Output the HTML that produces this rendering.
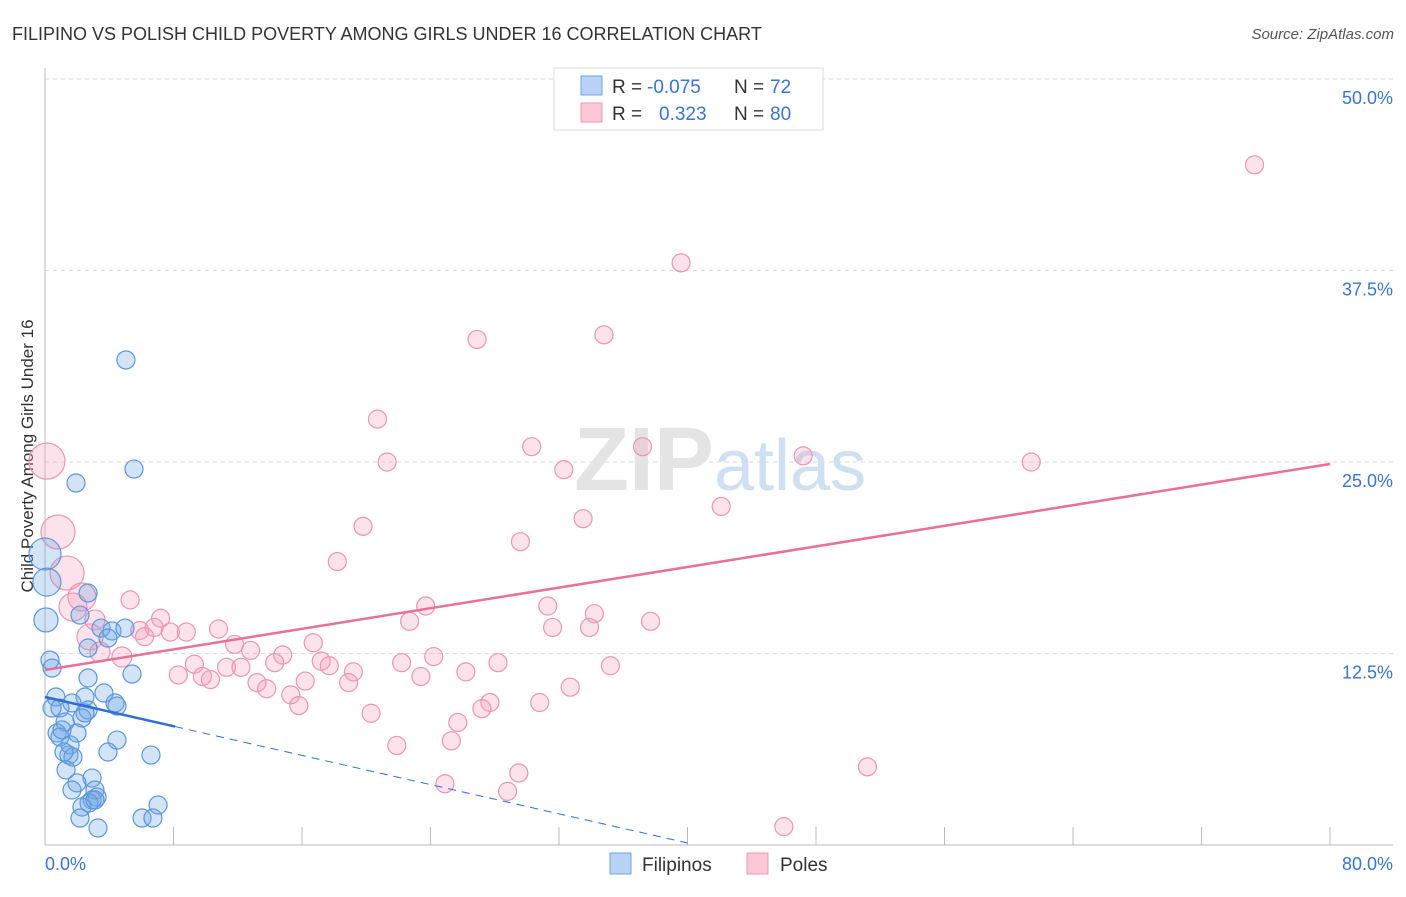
<!DOCTYPE html>
<html><head><meta charset="utf-8"><style>
body{margin:0;background:#fff;font-family:"Liberation Sans",sans-serif;}
svg text{font-family:"Liberation Sans",sans-serif;}
</style></head><body>
<svg id="chart" width="1406" height="892" viewBox="0 0 1406 892" xmlns="http://www.w3.org/2000/svg">
<text x="12" y="40" font-size="18" fill="#333">FILIPINO VS POLISH CHILD POVERTY AMONG GIRLS UNDER 16 CORRELATION CHART</text>
<text x="1394" y="39" font-size="15" fill="#555" text-anchor="end" font-style="italic">Source: ZipAtlas.com</text>
<text transform="translate(33,456) rotate(-90)" font-size="17" fill="#333" text-anchor="middle">Child Poverty Among Girls Under 16</text>
<g id="grid"></g>
<g id="axes"></g>
<text x="720" y="490" font-size="90" text-anchor="middle" fill="#e4e4e4" font-family="Liberation Serif"><tspan font-weight="bold">ZIP</tspan><tspan fill="#cfe0f3" font-family="Liberation Sans" font-size="72">atlas</tspan></text>
<g id="pts"></g>
<g id="trends"></g>
<g>
<rect x="554" y="68" width="269" height="62" fill="#fff" stroke="#ddd"/>
<rect x="581" y="76" width="21" height="19" fill="#b8d3f5" stroke="#6ea3e3"/>
<rect x="581" y="103" width="21" height="19" fill="#fbc8d7" stroke="#ee98b3"/>
<text x="612" y="93" font-size="19" fill="#333">R = </text><text x="647" y="93" font-size="19" fill="#3a74d0">-0.075</text>
<text x="734" y="93" font-size="19" fill="#333">N = </text><text x="770" y="93" font-size="19" fill="#3a74d0">72</text>
<text x="612" y="120" font-size="19" fill="#333">R = </text><text x="659" y="120" font-size="19" fill="#3a74d0">0.323</text>
<text x="734" y="120" font-size="19" fill="#333">N = </text><text x="770" y="120" font-size="19" fill="#3a74d0">80</text>
</g>
<g>
<rect x="610" y="853" width="21" height="21" fill="#b8d3f5" stroke="#6ea3e3"/>
<text x="642" y="871" font-size="19" fill="#333">Filipinos</text>
<rect x="747" y="853" width="21" height="21" fill="#fbc8d7" stroke="#ee98b3"/>
<text x="780" y="871" font-size="19" fill="#333">Poles</text>
</g>
</svg>
<script>
const xTickValues=[0,8,16,24,32,40,48,56,64,72,80];
const yTickValues=[12.5,25,37.5,50];
const yTickLabels=["12.5%","25.0%","37.5%","50.0%"];
const xEndLabels=["0.0%","80.0%"];
const blueX=[5.04,5.54,1.93,0,0.12,0.06,2.68,2.18,3.49,4.17,4.98,3.92,2.68,0.31,0.44,5.42,2.68,3.67,0.68,2.49,4.36,4.48,1.68,0.44,0.93,2.68,1.25,2.30,0.75,1.99,0.93,1.56,1.49,1.74,1.18,4.48,3.92,6.60,1.31,2.93,1.99,1.68,3.11,3.24,2.93,2.74,2.30,2.18,3.30,6.04,6.72,7.04,2.49,1.06,3.11];
const blueY=[31.66,24.54,23.63,18.99,17.16,14.69,16.45,15.01,14.16,13.97,14.16,13.51,12.86,12.07,11.55,11.16,10.90,9.92,9.66,9.66,9.27,9.07,9.27,8.94,8.94,8.81,8.03,8.29,7.31,7.31,7.05,6.53,5.87,5.74,6.07,6.85,6.07,5.87,4.90,4.37,4.05,3.59,3.59,3.13,2.94,2.74,2.48,1.76,1.11,1.76,1.76,2.61,8.62,7.51,2.94];
const blueR=[9,9,9,16,14,12,9,9,9,9,9,9,9,9,9,9,9,9,9,9,9,9,9,9,9,9,9,9,9,9,9,9,9,9,9,9,9,9,9,9,9,9,9,9,9,9,9,9,9,9,9,9,9,9,9];
const pinkX=[75.3,39.6,26.9,34.8,20.7,30.3,37.2,21.3,32.3,47.2,61.4,42.1,33.5,19.8,29.6,18.2,5.3,23.7,31.3,34.2,7.2,22.7,37.7,31.6,33.9,5.9,6.8,7.8,8.8,10.8,6.2,11.8,12.8,16.7,14.8,14.3,17.2,17.7,19.2,9.3,8.3,12.2,11.3,9.8,10.3,13.2,13.8,16.2,18.9,15.3,15.8,22.2,24.2,23.4,26.2,28.2,35.2,32.7,27.7,27.2,30.8,20.3,25.7,25.3,21.9,29.5,28.8,24.9,51.2,46.0,0.12,0.81,1.37,2.30,1.74,2.80,3.42,4.79,3.11];
const pinkY=[44.4,38.0,33.0,33.3,27.8,26.0,26.0,25.0,24.5,25.4,25.0,22.1,21.3,20.8,19.8,18.5,16.0,15.6,15.6,15.1,14.8,14.6,14.6,14.2,14.2,14.0,14.2,13.9,13.9,14.1,13.6,13.1,12.7,13.2,12.4,11.9,12.0,11.7,11.3,11.8,11.1,11.6,11.6,11.0,10.8,10.6,10.2,10.7,10.6,9.8,9.1,11.9,12.3,11.0,11.3,11.9,11.7,10.3,9.3,8.9,9.3,8.6,8.0,6.8,6.5,4.7,3.5,4.0,5.1,1.2,25.06,20.43,17.75,16.19,15.53,13.58,12.60,12.27,14.69];
const pinkR=[9,9,9,9,9,9,9,9,9,9,9,9,9,9,9,9,9,9,9,9,9,9,9,9,9,9,9,9,9,9,9,9,9,9,9,9,9,9,9,9,9,9,9,9,9,9,9,9,9,9,9,9,9,9,9,9,9,9,9,9,9,9,9,9,9,9,9,9,9,9,18,17,17,14,14,13,10,10,10];
const pinkTrend=[11.42,24.87]; // y at x=0 and x=80
const blueTrend=[9.66,0.13]; // y at x=0 and x=40
const blueSolidEnd=8.1;
const NS="http://www.w3.org/2000/svg";
const X0=45,X1=1330,Y0=845,Y50=79;
const sx=v=>X0+(X1-X0)*v/80;
const sy=v=>Y0-(Y0-Y50)*v/50;
function mk(tag,attrs,parent){const e=document.createElementNS(NS,tag);for(const k in attrs)e.setAttribute(k,attrs[k]);parent.appendChild(e);return e;}
const grid=document.getElementById('grid'),axes=document.getElementById('axes'),pts=document.getElementById('pts'),tr=document.getElementById('trends');
yTickValues.forEach((v,i)=>{
 const l=mk('line',{x1:X0,x2:1393,y1:sy(v),y2:sy(v),stroke:'#d8d8d8','stroke-dasharray':'4,4'},grid);
 
 
 const t=mk('text',{x:1393,y:sy(v)+25,'font-size':18,fill:'#3a74d0','text-anchor':'end'},grid);
 t.textContent=yTickLabels[i];
 
 
});
const ya=mk('line',{x1:X0,x2:X0,y1:68,y2:Y0,stroke:'#bbb'},axes);


const xa=mk('line',{x1:X0,x2:1393,y1:Y0,y2:Y0,stroke:'#bbb'},axes);


xTickValues.forEach(v=>{const t=mk('line',{x1:sx(v),x2:sx(v),y1:Y0,y2:Y0-18,stroke:'#bbb'},axes);
 
 });
[[0,'start',xEndLabels[0]],[80,'end',xEndLabels[1]]].forEach(([v,a,s])=>{
 const t=mk('text',{x:v===0?X0:1393,y:870,'font-size':18,fill:'#3a74d0','text-anchor':a},axes);t.textContent=s;
 
 
});
pinkX.forEach((x,i)=>{const c=mk('circle',{cx:sx(x),cy:sy(pinkY[i]),r:pinkR[i],fill:'rgba(244,160,188,0.3)',stroke:'#eb95b1','stroke-width':1.2},pts);
 
 });
blueX.forEach((x,i)=>{const c=mk('circle',{cx:sx(x),cy:sy(blueY[i]),r:blueR[i],fill:'rgba(110,165,230,0.3)',stroke:'#5b96dd','stroke-width':1.2},pts);
 
 });
const pl=mk('line',{x1:sx(0),y1:sy(pinkTrend[0]),x2:sx(80),y2:sy(pinkTrend[1]),stroke:'#e8709a','stroke-width':2.5},tr);


const by=x=>blueTrend[0]+(blueTrend[1]-blueTrend[0])*x/40;
const bl=mk('line',{x1:sx(0),y1:sy(by(0)),x2:sx(blueSolidEnd),y2:sy(by(blueSolidEnd)),stroke:'#2b6fd6','stroke-width':2.5},tr);


const bd=mk('line',{x1:sx(blueSolidEnd),y1:sy(by(blueSolidEnd)),x2:sx(40),y2:sy(by(40)),stroke:'#2b6fd6','stroke-width':1,'stroke-dasharray':'8,6'},tr);


</script>
</body></html>
